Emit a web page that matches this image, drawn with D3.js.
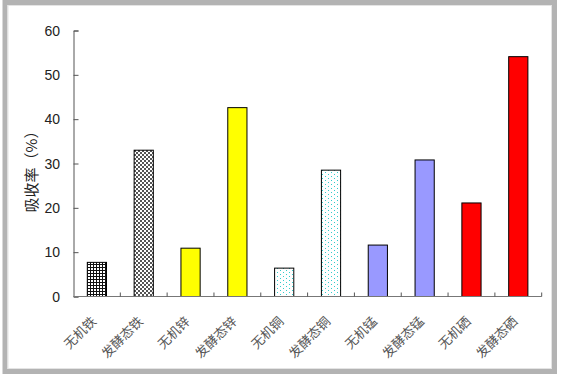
<!DOCTYPE html>
<html><head><meta charset="utf-8">
<script src="https://cdn.jsdelivr.net/npm/d3@7/dist/d3.min.js"></script>
<style>body{margin:0;background:#fff}svg{display:block}</style>
</head><body>
<script>
const categories = ["无机铁","发酵态铁","无机锌","发酵态锌","无机铜","发酵态铜","无机锰","发酵态锰","无机硒","发酵态硒"];
const values = [7.7, 33.0, 10.9, 42.6, 6.4, 28.5, 11.6, 30.8, 21.1, 54.1];
const fills = ["url(#grid)","url(#checker)","#ffff00","#ffff00","url(#dots)","url(#dots)","#9999ff","#9999ff","#ff0000","#ff0000"];
const yTicks = [0,10,20,30,40,50,60];
const yTitle = "吸收率（%）";

const W = 562, H = 379;
const svg = d3.select("body").append("svg").attr("width", W).attr("height", H);
const defs = svg.append("defs");

// grid pattern
const pg = defs.append("pattern").attr("id","grid").attr("patternUnits","userSpaceOnUse").attr("width",3).attr("height",3);
pg.append("rect").attr("width",3).attr("height",3).attr("fill","#fff");
pg.append("rect").attr("width",3).attr("height",1).attr("fill","#111");
pg.append("rect").attr("width",1).attr("height",3).attr("fill","#111");
// checker pattern
const pc = defs.append("pattern").attr("id","checker").attr("patternUnits","userSpaceOnUse").attr("width",4).attr("height",4);
pc.append("rect").attr("width",4).attr("height",4).attr("fill","#fff");
pc.append("rect").attr("width",2).attr("height",2).attr("fill","#555");
pc.append("rect").attr("x",2).attr("y",2).attr("width",2).attr("height",2).attr("fill","#555");
// dots pattern
const pd = defs.append("pattern").attr("id","dots").attr("patternUnits","userSpaceOnUse").attr("width",6).attr("height",4);
pd.append("rect").attr("width",6).attr("height",4).attr("fill","#fff");
pd.append("rect").attr("x",1).attr("y",0).attr("width",1).attr("height",1).attr("fill","#33cccc");
pd.append("rect").attr("x",4).attr("y",2).attr("width",1).attr("height",1).attr("fill","#33cccc");

// frame
svg.append("rect").attr("x",5).attr("y",2.5).attr("width",549.5).attr("height",369)
  .attr("fill","#fff").attr("stroke","#b3b3b3").attr("stroke-width",5);
svg.append("rect").attr("x",8).attr("y",5.5).attr("width",543.5).attr("height",363)
  .attr("fill","none").attr("stroke","#e4e4e4").attr("stroke-width",1);

const x0 = 73.5, x1 = 541.7, y0 = 296.5, y1 = 30.5;
const x = d3.scaleBand().domain(categories).range([x0, x1]).padding(0);
const y = d3.scaleLinear().domain([0, 60]).range([y0, y1]);
const bw = x.bandwidth() * 0.41;

// bars
svg.append("g").selectAll("rect").data(categories).join("rect")
  .attr("x", d => x(d) + x.bandwidth()/2 - bw/2)
  .attr("y", (d,i) => y(values[i]))
  .attr("width", bw)
  .attr("height", (d,i) => y(0) - y(values[i]))
  .attr("fill", (d,i) => fills[i])
  .attr("stroke", "#000").attr("stroke-width", 1);

// y axis
const ya = svg.append("g").attr("transform", `translate(${x0},0)`)
  .call(d3.axisRight(y).tickValues(yTicks).tickSize(5).tickFormat(""));
ya.select(".domain").attr("stroke","#555");
ya.selectAll(".tick line").attr("stroke","#555");
svg.append("g").selectAll("text").data(yTicks).join("text")
  .attr("x", 60).attr("y", d => y(d)).attr("dy","0.36em")
  .attr("text-anchor","end")
  .attr("font-family","Liberation Sans, Arial, sans-serif").attr("font-size",14).attr("fill","#222")
  .text(d => d);

// x axis
const xEdges = d3.range(categories.length + 1).map(i => x0 + i * x.step());
svg.append("line").attr("x1",x0).attr("x2",x1).attr("y1",y0).attr("y2",y0).attr("stroke","#777");
svg.append("g").selectAll("line").data(xEdges.slice(1)).join("line")
  .attr("x1", d => d).attr("x2", d => d).attr("y1", y0).attr("y2", y0 - 4).attr("stroke","#555");

// x labels
svg.append("g").selectAll("text").data(categories).join("text")
  .attr("transform", d => `translate(${x(d) + x.bandwidth()/2 - 3},${319}) rotate(-45)`)
  .attr("text-anchor","end").attr("dy","0.35em")
  .attr("font-family","Noto Sans CJK SC, sans-serif").attr("font-size",13).attr("fill","#555")
  .text(d => d);

// y title
svg.append("text").attr("transform","translate(32,168) rotate(-90)")
  .attr("text-anchor","middle").attr("dy","0.35em")
  .attr("font-family","Noto Sans CJK SC, sans-serif").attr("font-size",15).attr("fill","#222")
  .text(yTitle);
</script>
</body></html>
